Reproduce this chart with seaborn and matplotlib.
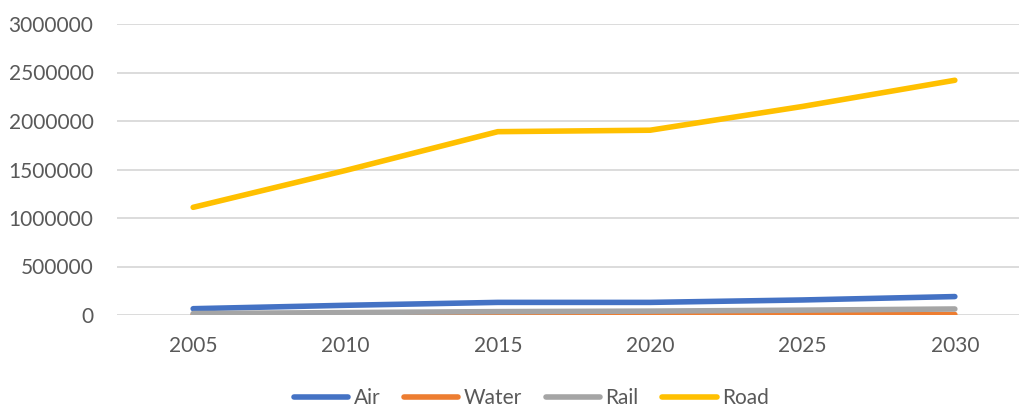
import matplotlib
matplotlib.use("Agg")
import matplotlib.pyplot as plt
import seaborn as sns
import pandas as pd

years = ["2005", "2010", "2015", "2020", "2025", "2030"]
air = [65000, 100000, 130000, 130000, 155000, 190000]
water = [3000, 3500, 4000, 4000, 5000, 5000]
rail = [15000, 25000, 35000, 40000, 50000, 62000]
road = [1110000, 1490000, 1890000, 1905000, 2150000, 2420000]
series_names = ["Air", "Water", "Rail", "Road"]
colors = ["#4472C4", "#ED7D31", "#A5A5A5", "#FFC000"]
yticks = [0, 500000, 1000000, 1500000, 2000000, 2500000, 3000000]

rows = []
for name, vals in zip(series_names, [air, water, rail, road]):
    for y, v in zip(years, vals):
        rows.append({"Year": y, "Value": v, "Series": name})
df = pd.DataFrame(rows)

sns.set_theme(style="white")
plt.rcParams["font.family"] = ["Lato", "DejaVu Sans"]
text_color = "#595959"

fig = plt.figure(figsize=(10.2, 4.07), dpi=100)
ax = fig.add_axes([117 / 1020, 92 / 407, 914 / 1020, 291 / 407])

sns.lineplot(data=df, x="Year", y="Value", hue="Series", hue_order=series_names,
             palette=colors, linewidth=4.0, ax=ax, legend=False,
             solid_capstyle="round", sort=False)

ax.set_xlim(-0.5, 5.5)
ax.set_ylim(0, 3000000)
ax.set_yticks(yticks)
ax.set_yticklabels([str(t) for t in yticks])
ax.set_xlabel("")
ax.set_ylabel("")
ax.yaxis.grid(True, color="#D9D9D9", linewidth=1.3)
ax.xaxis.grid(False)
ax.set_axisbelow(True)
for s in ax.spines.values():
    s.set_visible(False)
ax.tick_params(axis="both", length=0, labelsize=15, colors=text_color)
ax.tick_params(axis="y", pad=17)
ax.tick_params(axis="x", pad=15)

from matplotlib.lines import Line2D
handles = [Line2D([0], [0], color=c, linewidth=4.0, solid_capstyle="round") for c in colors]
leg = fig.legend(handles, series_names, loc="center", bbox_to_anchor=(0.521, 0.022),
                 ncol=4, frameon=False, fontsize=15, handlelength=2.6,
                 handletextpad=0.25, columnspacing=1.15, labelcolor=text_color)

fig.savefig("out.png", dpi=100)
